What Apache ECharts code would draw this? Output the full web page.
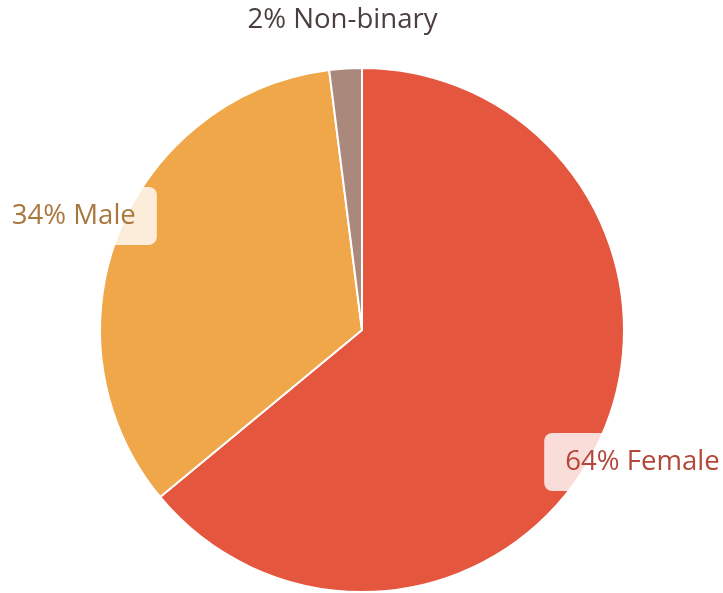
<!DOCTYPE html>
<html>
<head>
<meta charset="utf-8">
<script src="https://cdn.jsdelivr.net/npm/echarts@6/dist/echarts.min.js"></script>
<style>html,body{margin:0;padding:0;background:#fff;}#chart{width:723px;height:593px;}</style>
</head>
<body>
<div id="chart"></div>
<script>
const categories = ['Female', 'Male', 'Non-binary'];
const values = [64, 34, 2];
const sliceColors = ['#e5563f', '#efa74a', '#aa887b'];
const labelColors = ['#b2473a', '#a8783e', '#4a3f3e'];

const chart = echarts.init(document.getElementById('chart'), null, {renderer: 'canvas'});
const mainData = categories.map((c, i) => ({name: c, value: values[i], itemStyle: {color: sliceColors[i]}}));
const labelData = categories.map((c, i) => ({
  name: c, value: values[i],
  label: {color: labelColors[i]}
}));
chart.setOption({
  animation: false,
  series: [
    {
      type: 'pie',
      center: [362, 330],
      radius: [0, 262],
      startAngle: 90,
      clockwise: true,
      label: {show: false},
      labelLine: {show: false},
      itemStyle: {borderColor: '#ffffff', borderWidth: 2},
      emphasis: {disabled: true},
      data: mainData
    },
    {
      type: 'pie',
      center: [362, 330],
      radius: [295, 319],
      startAngle: 90,
      clockwise: true,
      silent: true,
      itemStyle: {color: 'rgba(0,0,0,0)', borderWidth: 0},
      labelLine: {show: false},
      label: {
        show: true,
        position: 'inside',
        formatter: p => p.value + '% ' + p.name,
        fontFamily: '"Open Sans", sans-serif',
        fontSize: 27.6,
        lineHeight: 28,
        backgroundColor: 'rgba(255,255,255,0.8)',
        padding: [15, 21],
        borderRadius: 8
      },
      emphasis: {disabled: true},
      data: labelData
    }
  ]
});
</script>
</body>
</html>
